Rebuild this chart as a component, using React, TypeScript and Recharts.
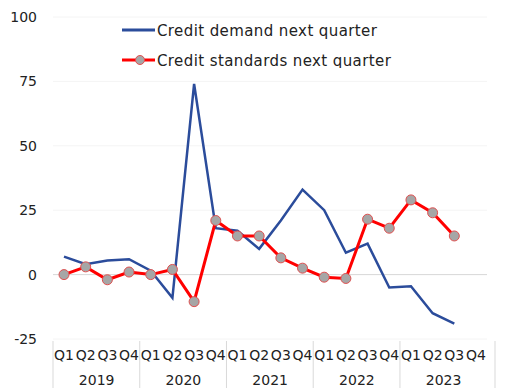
import { LineChart, Line, XAxis, YAxis, CartesianGrid, ReferenceLine, Legend } from 'recharts'

const years = ['2019', '2020', '2021', '2022', '2023']
const quarters = ['Q1', 'Q2', 'Q3', 'Q4']
const demand = [7, 4, 5.5, 6, 1.5, -9, 74, 18, 17, 10, 21, 33, 25, 8.5, 12, -5, -4.5, -15, -19, null]
const standards = [0, 3, -2, 1, 0, 2, -10.5, 21, 15, 15, 6.5, 2.5, -1, -1.5, 21.5, 18, 29, 24, 15, null]
const yTicks = [-25, 0, 25, 50, 75, 100]

const data = years.flatMap((yr, yi) =>
  quarters.map((q, qi) => {
    const i = yi * 4 + qi
    return { key: `${yr}-${q}`, q, year: yr, demand: demand[i], standards: standards[i] }
  })
)

const FONT = '"DejaVu Sans", Verdana, sans-serif'
const HALF = 11

const QuarterTick = (props: any) => {
  const { x, y, index } = props
  const row = data[index]
  return (
    <g>
      <text x={x} y={y + 21} textAnchor='middle' fontSize={14} fill='#222' fontFamily={FONT}>
        {row.q}
      </text>
      {index % 4 === 1 && (
        <text x={x + HALF} y={y + 46} textAnchor='middle' fontSize={14} fill='#222' fontFamily={FONT}>
          {row.year}
        </text>
      )}
      {index % 4 === 0 && (
        <line x1={x - HALF} x2={x - HALF} y1={y + 2} y2={y + 49} stroke='#d9d9d9' />
      )}
      {index === data.length - 1 && (
        <line x1={x + 19} x2={x + 19} y1={y + 2} y2={y + 49} stroke='#d9d9d9' />
      )}
    </g>
  )
}

const LegendBox = (props: any) => {
  const items = props.payload || []
  return (
    <svg width={300} height={50} style={{ display: 'block' }}>
      {items.map((it: any, i: number) => {
        const cy = 12 + i * 30
        return (
          <g key={i}>
            <line x1={2} x2={35} y1={cy} y2={cy} stroke={it.color} strokeWidth={3} />
            {it.dataKey === 'standards' && (
              <circle cx={20} cy={cy} r={4.5} fill='#a6a6a6' stroke='#e05050' strokeWidth={1} />
            )}
            <text x={37} y={cy + 5.5} fontSize={15} letterSpacing={0.4} fill='#222' fontFamily={FONT}>
              {it.value}
            </text>
          </g>
        )
      })}
    </svg>
  )
}

export default function App() {
  return (
    <div style={{ position: 'absolute', left: 0, top: 0, background: '#fff' }}>
      <LineChart width={507} height={388} data={data} margin={{ top: 17, right: 20, bottom: 0, left: 0 }}>
        <CartesianGrid vertical={false} stroke='#f4f4f4' />
        <ReferenceLine y={0} stroke='#d9d9d9' />
        <XAxis
          dataKey='key'
          interval={0}
          height={49}
          axisLine={false}
          tickLine={false}
          tickSize={0}
          tickMargin={0}
          padding={{ left: HALF, right: HALF }}
          tick={<QuarterTick />}
        />
        <YAxis
          width={53}
          domain={[-25, 100]}
          ticks={yTicks}
          axisLine={false}
          tickLine={false}
          tickSize={0}
          tickMargin={16}
          tick={{ fontSize: 14, fill: '#222', fontFamily: FONT }}
        />
        <Legend
          layout='vertical'
          align='center'
          verticalAlign='middle'
          wrapperStyle={{ top: 18, left: 120, width: 300 }}
          content={<LegendBox />}
        />
        <Line
          dataKey='demand'
          name='Credit demand next quarter'
          stroke='#2b4c9b'
          strokeWidth={2.5}
          dot={false}
          isAnimationActive={false}
        />
        <Line
          dataKey='standards'
          name='Credit standards next quarter'
          stroke='#ff0000'
          strokeWidth={3}
          dot={{ r: 5, fill: '#a6a6a6', stroke: '#e05050', strokeWidth: 1 }}
          isAnimationActive={false}
        />
      </LineChart>
    </div>
  )
}
